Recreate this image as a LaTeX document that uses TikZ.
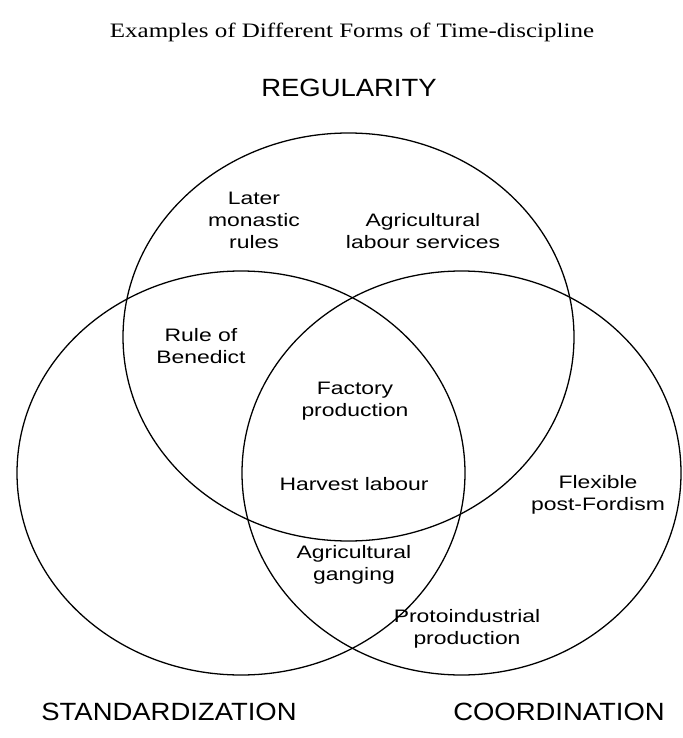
\documentclass[tikz,border=0pt]{standalone}
\usepackage{fontspec}
\setmainfont{Liberation Serif}
\newfontfamily\regionfont[FakeStretch=1.27]{Liberation Sans}
\newfontfamily\axisfont[FakeStretch=1.1]{Liberation Sans}
\newfontfamily\titlefont[FakeStretch=1.22]{Liberation Serif}
\usetikzlibrary{positioning}

\begin{document}
\begin{tikzpicture}[x=0.03cm, y=-0.03cm,
  set/.style={draw, line width=1.1pt},
  region/.style={font=\regionfont\fontsize{15.4}{18.8}\selectfont, align=center, inner sep=0pt},
  axis/.style={font=\axisfont\fontsize{21.3}{25}\selectfont, inner sep=0pt}]

\useasboundingbox (0,0) rectangle (683,738);

% the three sets
\coordinate (regc) at (348.5,337);
\coordinate (stdc) at (241,473);
\coordinate (cooc) at (461.5,473);
\draw[set] (regc) ellipse [x radius=225.5, y radius=204];
\draw[set] (stdc) ellipse [x radius=224, y radius=202];
\draw[set] (cooc) ellipse [x radius=219.5, y radius=202];

\node[font=\titlefont\fontsize{17.5}{20}\selectfont, inner sep=0pt] (title) at (352,32) {Examples of Different Forms of Time-discipline};

\node[axis] (regularity) at (349,88) {REGULARITY};
\node[axis] (standard) at (169,712) {STANDARDIZATION};
\node[axis] (coord) at (559,712) {COORDINATION};

\node[region] (monastic) at (254,220) {Later\\monastic\\rules};
\node[region] (services) at (423,231) {Agricultural\\labour services};
\node[region] (benedict) at (201,346) {Rule of\\Benedict};
\node[region] (factory) at (355,401) {Factory\\production};
\node[region] (harvest) at (354,484) {Harvest labour};
\node[region] (fordism) at (598,495) {Flexible\\post-Fordism};
\node[region] (ganging) at (354,565) {Agricultural\\ganging};
\node[region] (proto) at (467,629) {Protoindustrial\\production};

\end{tikzpicture}
\end{document}
